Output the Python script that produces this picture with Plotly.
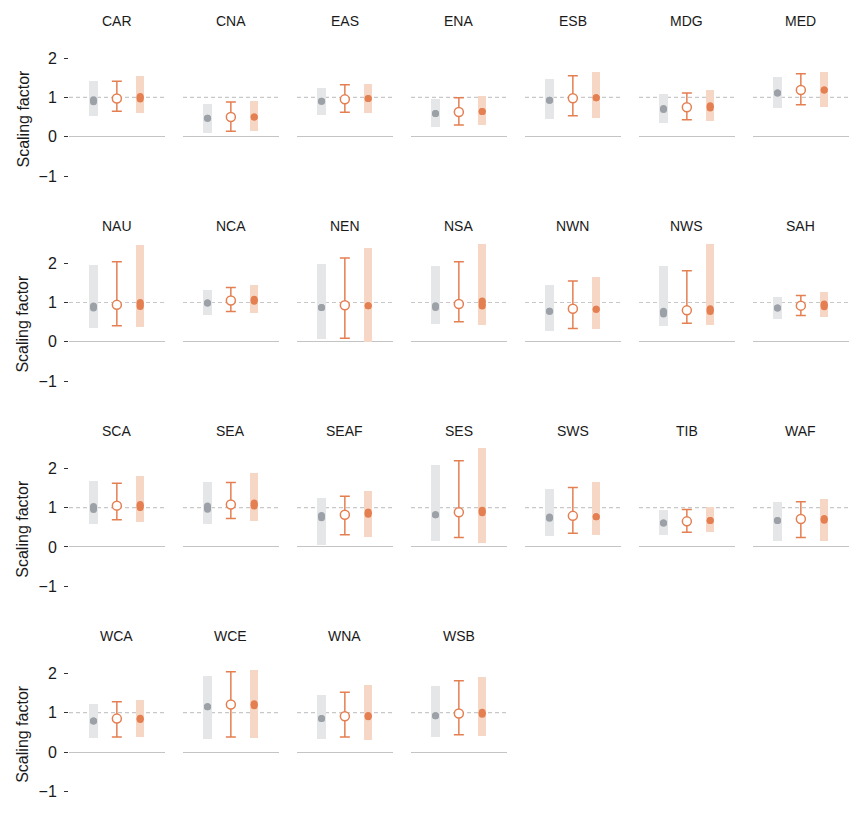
"""Regional scaling factors, small multiples."""

import plotly.graph_objects as go

regions = ["CAR", "CNA", "EAS", "ENA", "ESB", "MDG", "MED",
           "NAU", "NCA", "NEN", "NSA", "NWN", "NWS", "SAH",
           "SCA", "SEA", "SEAF", "SES", "SWS", "TIB", "WAF",
           "WCA", "WCE", "WNA", "WSB"]

# grey range bar and its dot cluster
grey_lo = [0.54, 0.11, 0.56, 0.25, 0.47, 0.36, 0.74, 0.35, 0.70, 0.09, 0.45, 0.28, 0.40,
           0.60, 0.59, 0.59, 0.05, 0.15, 0.28, 0.31, 0.17, 0.35, 0.34, 0.34, 0.38]
grey_hi = [1.42, 0.85, 1.26, 0.96, 1.49, 1.10, 1.52, 1.96, 1.34, 1.98, 1.94, 1.45, 1.94,
           1.15, 1.68, 1.67, 1.26, 2.08, 1.49, 0.94, 1.15, 1.22, 1.95, 1.46, 1.69]
grey_dot_lo = [0.89, 0.47, 0.90, 0.59, 0.93, 0.69, 1.11, 0.86, 0.99, 0.87, 0.87, 0.78, 0.71,
               0.86, 0.95, 0.96, 0.74, 0.82, 0.73, 0.61, 0.67, 0.79, 1.15, 0.85, 0.92]
grey_dot_hi = [0.94, 0.47, 0.90, 0.59, 0.93, 0.72, 1.11, 0.91, 0.99, 0.87, 0.92, 0.78, 0.78,
               0.86, 1.03, 1.04, 0.80, 0.82, 0.76, 0.61, 0.67, 0.79, 1.15, 0.85, 0.92]

# open circle with error bar
circ = [0.97, 0.50, 0.95, 0.63, 0.98, 0.75, 1.19, 0.94, 1.05, 0.93, 0.96, 0.84, 0.80,
        0.92, 1.05, 1.08, 0.82, 0.88, 0.79, 0.65, 0.71, 0.85, 1.21, 0.91, 0.98]
err_lo = [0.65, 0.14, 0.62, 0.30, 0.53, 0.43, 0.81, 0.41, 0.77, 0.09, 0.51, 0.34, 0.47,
          0.67, 0.69, 0.72, 0.31, 0.24, 0.35, 0.37, 0.24, 0.38, 0.38, 0.38, 0.44]
err_hi = [1.41, 0.88, 1.32, 0.99, 1.55, 1.11, 1.60, 2.04, 1.38, 2.13, 2.04, 1.55, 1.81,
          1.18, 1.62, 1.64, 1.29, 2.19, 1.51, 0.95, 1.15, 1.28, 2.04, 1.52, 1.81]

# light orange range bar and its dot cluster
orng_lo = [0.61, 0.15, 0.61, 0.30, 0.50, 0.42, 0.78, 0.38, 0.75, 0.00, 0.44, 0.33, 0.44,
           0.63, 0.64, 0.67, 0.26, 0.11, 0.31, 0.38, 0.17, 0.38, 0.36, 0.31, 0.42]
orng_hi = [1.55, 0.91, 1.35, 1.04, 1.65, 1.21, 1.65, 2.48, 1.45, 2.40, 2.51, 1.65, 2.51,
           1.27, 1.80, 1.89, 1.44, 2.52, 1.65, 1.02, 1.22, 1.32, 2.09, 1.72, 1.92]
orng_dot_lo = [0.96, 0.50, 0.97, 0.64, 0.99, 0.73, 1.19, 0.90, 1.03, 0.92, 0.91, 0.83, 0.77,
               0.89, 1.00, 1.04, 0.83, 0.87, 0.77, 0.67, 0.68, 0.83, 1.18, 0.90, 0.96]
orng_dot_hi = [1.02, 0.50, 0.97, 0.64, 0.99, 0.79, 1.19, 1.00, 1.08, 0.92, 1.04, 0.83, 0.84,
               0.96, 1.08, 1.12, 0.89, 0.93, 0.77, 0.67, 0.72, 0.86, 1.23, 0.93, 1.01]

GREY_BAR = "#e4e6e8"
GREY_DOT = "#9ca1a7"
ORANGE = "#e47f52"
ORANGE_BAR = "#f6d7c5"
FONT = "Liberation Sans, Arial, sans-serif"

# the page adds an 8px body margin, so the figure is drawn 8px smaller
W, H = 856, 820
NCOL = 7
X0, XW, XPITCH = 61.0, 95.7, 114.0
Y0, YPITCH, UNIT = 128.7, 205.1, 39.3
YMIN, YMAX = -1.3, 2.6

fig = go.Figure()
layout = {}
annotations = []
shapes = []

for k, name in enumerate(regions):
    r, c = divmod(k, NCOL)
    sfx = "" if k == 0 else str(k + 1)
    xa, ya = "x" + sfx, "y" + sfx

    left = X0 + XPITCH * c
    base = Y0 + YPITCH * r
    top_px = base - YMAX * UNIT
    bot_px = base - YMIN * UNIT

    layout["xaxis" + sfx] = dict(
        domain=[left / W, (left + XW) / W], range=[-2.05, 2.05],
        visible=False, anchor=ya, fixedrange=True,
    )
    yax = dict(
        domain=[1 - bot_px / H, 1 - top_px / H], range=[YMIN, YMAX],
        anchor=xa, showgrid=False, showline=False,
        zeroline=True, zerolinecolor="#c4c4c4", zerolinewidth=1.3,
        tickvals=[-1, 0, 1, 2], fixedrange=True,
    )
    if c == 0:
        yax.update(
            ticks="outside", ticklen=4, tickwidth=1, tickcolor="#333333",
            ticklabelstandoff=4,
            tickfont=dict(size=16, color="#1a1a1a", family=FONT),
        )
        annotations.append(dict(
            text="Scaling factor", textangle=-90, xref="paper", yref="paper",
            x=15 / W, y=1 - (base - 18.2) / H,
            xanchor="center", yanchor="middle", showarrow=False,
            font=dict(size=16, color="#1a1a1a", family=FONT),
        ))
    else:
        yax.update(showticklabels=False, ticks="")
    layout["yaxis" + sfx] = yax

    shapes.append(dict(
        type="line", xref=xa + " domain", yref=ya, x0=0, x1=1, y0=1, y1=1,
        line=dict(color="#c8c8c8", width=1.2, dash="4px,3px"), layer="below",
    ))
    annotations.append(dict(
        text=name, xref="paper", yref="paper",
        x=(left + XW / 2) / W, y=1 - (13 + YPITCH * r) / H,
        xanchor="center", yanchor="middle", showarrow=False,
        font=dict(size=14, color="#1a1a1a", family=FONT),
    ))

    # range bars
    fig.add_trace(go.Bar(
        x=[-1], base=[grey_lo[k]], y=[grey_hi[k] - grey_lo[k]], width=0.36,
        marker=dict(color=GREY_BAR, line=dict(width=0)),
        xaxis=xa, yaxis=ya, showlegend=False, hoverinfo="skip",
    ))
    fig.add_trace(go.Bar(
        x=[1], base=[orng_lo[k]], y=[orng_hi[k] - orng_lo[k]], width=0.36,
        marker=dict(color=ORANGE_BAR, line=dict(width=0)),
        xaxis=xa, yaxis=ya, showlegend=False, hoverinfo="skip",
    ))
    # dot clusters
    fig.add_trace(go.Scatter(
        x=[-1, -1], y=[grey_dot_lo[k], grey_dot_hi[k]], mode="lines+markers",
        line=dict(color=GREY_DOT, width=7), marker=dict(color=GREY_DOT, size=7),
        xaxis=xa, yaxis=ya, showlegend=False,
    ))
    fig.add_trace(go.Scatter(
        x=[1, 1], y=[orng_dot_lo[k], orng_dot_hi[k]], mode="lines+markers",
        line=dict(color=ORANGE, width=7), marker=dict(color=ORANGE, size=7),
        xaxis=xa, yaxis=ya, showlegend=False,
    ))
    # open circle with whiskers
    fig.add_trace(go.Scatter(
        x=[0], y=[circ[k]], mode="markers",
        marker=dict(symbol="circle", size=9, color="white",
                    line=dict(color=ORANGE, width=1.5)),
        error_y=dict(type="data", symmetric=False,
                     array=[err_hi[k] - circ[k]], arrayminus=[circ[k] - err_lo[k]],
                     color=ORANGE, thickness=1.5, width=5),
        xaxis=xa, yaxis=ya, showlegend=False,
    ))

fig.update_layout(
    **layout,
    width=W, height=H,
    margin=dict(l=0, r=0, t=0, b=0),
    paper_bgcolor="white", plot_bgcolor="white",
    barmode="overlay", bargap=0,
    font=dict(family=FONT, size=13, color="#1a1a1a"),
    annotations=annotations, shapes=shapes,
)

fig.write_html("out.html")
